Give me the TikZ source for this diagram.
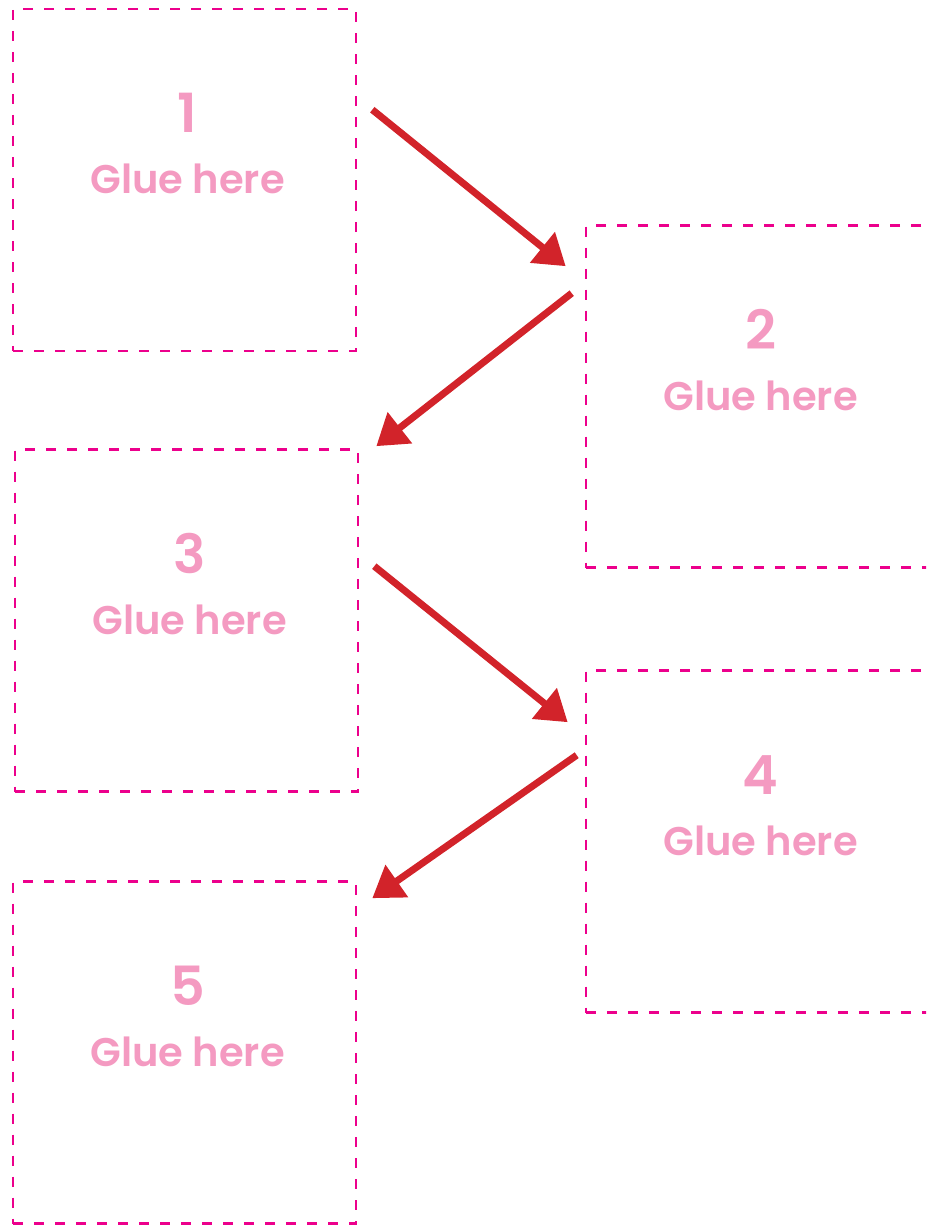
\documentclass[tikz,border=0pt]{standalone}
\usepackage{fontspec}
\setmainfont{Poppins}[BoldFont={* SemiBold}]
\usepackage{tikz}
\usetikzlibrary{arrows.meta,calc}

\definecolor{gluepink}{RGB}{244,154,193}
\definecolor{edgepink}{RGB}{236,0,140}
\definecolor{arrowred}{RGB}{210,35,42}

\begin{document}
\begin{tikzpicture}[x=1pt,y=-1pt,
  gluebox/.style={draw=edgepink,line width=2.6pt,dash pattern=on 10pt off 11pt,
    minimum width=343pt,minimum height=342pt,inner sep=0pt},
  num/.style={anchor=base,text=gluepink,font=\bfseries\fontsize{54}{54}\selectfont},
  glue/.style={anchor=base,text=gluepink,font=\bfseries\fontsize{40}{40}\selectfont},
  nextarrow/.style={draw=arrowred,line width=7pt,-{Triangle[length=30pt,width=38pt]}}]
\clip (0,0) rectangle (926,1225);
% boxes
\node[gluebox] (b1) at (184.5,180) {};
\node[gluebox] (b2) at (757.5,396.5) {};
\node[gluebox] (b3) at (186.5,620.5) {};
\node[gluebox] (b4) at (757.5,841.5) {};
\node[gluebox] (b5) at (184.5,1052.5) {};
% labels
\foreach \i in {1,...,5}{
  \node[num] (n\i) at ([xshift=3pt,yshift=-125pt]b\i.north) {\i};
  \node[glue] (g\i) at ([xshift=3pt,yshift=-186pt]b\i.north) {Glue here};
}
% arrows
\draw[nextarrow] ($(b1.north east)+(15,102)$) -- ($(b2.north west)+(-19,42)$);
\draw[nextarrow] ($(b2.north west)+(-13,69)$) -- ($(b3.north east)+(17,-2)$);
\draw[nextarrow] ($(b3.north east)+(15,118)$) -- ($(b4.north west)+(-17,53)$);
\draw[nextarrow] ($(b4.north west)+(-8,86)$) -- ($(b5.north east)+(15,18)$);
\end{tikzpicture}
\end{document}
